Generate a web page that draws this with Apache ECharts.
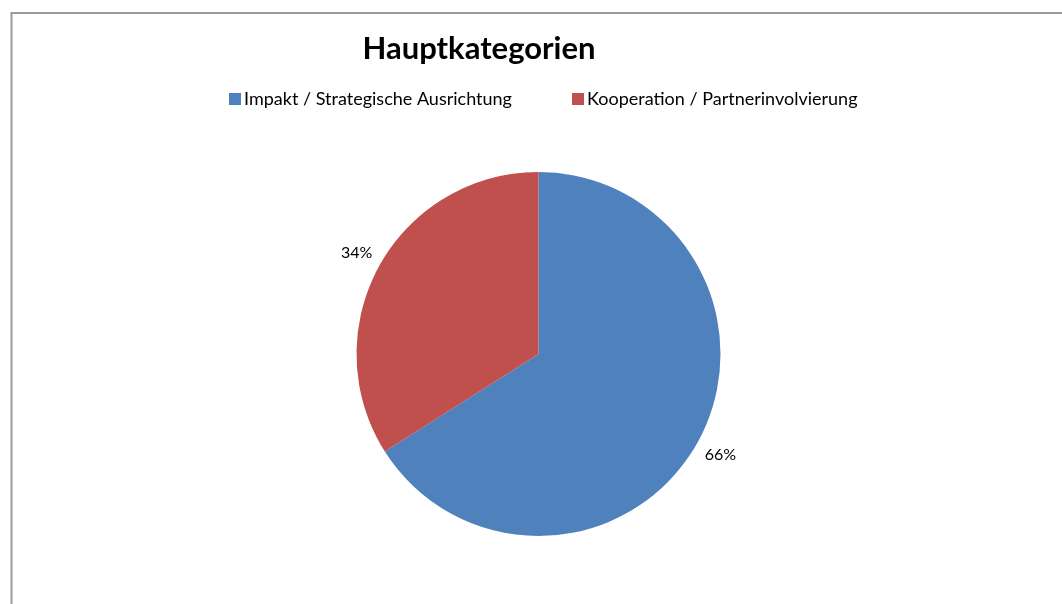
<!DOCTYPE html>
<html>
<head>
<meta charset="utf-8">
<script src="https://cdn.jsdelivr.net/npm/echarts@6/dist/echarts.min.js"></script>
<style>html,body{margin:0;padding:0;background:#fff}#c{width:1062px;height:604px}</style>
</head>
<body>
<div id="c"></div>
<script>
const titleText = 'Hauptkategorien';
const categories = ['Impakt / Strategische Ausrichtung', 'Kooperation / Partnerinvolvierung'];
const values = [66, 34];
const colors = ['#4F81BD', '#C0504D'];

const chart = echarts.init(document.getElementById('c'), null, {renderer: 'canvas'});
const font = 'Lato, "Open Sans", sans-serif';
chart.setOption({
  animation: false,
  backgroundColor: '#fff',
  graphic: [{
    type: 'rect', silent: true,
    shape: {x: 11.5, y: 13, width: 1200, height: 800},
    style: {fill: 'none', stroke: '#9a9a9a', lineWidth: 2}
  }],
  title: {
    text: titleText, left: 479, top: 33, textAlign: 'center', padding: 0,
    textStyle: {fontFamily: font, fontWeight: 'bold', fontSize: 31, color: '#000'}
  },
  legend: [{
    data: [categories[0]], left: 229, top: 90, padding: 0, itemWidth: 12, itemHeight: 12,
    icon: 'rect', textStyle: {fontFamily: font, fontSize: 18, color: '#000', padding: [0,0,0,-2]}
  }, {
    data: [categories[1]], left: 572, top: 90, padding: 0, itemWidth: 12, itemHeight: 12,
    icon: 'rect', textStyle: {fontFamily: font, fontSize: 18, color: '#000', padding: [0,0,0,-2]}
  }],
  series: [{
    type: 'pie',
    center: [538.5, 354],
    radius: 182,
    startAngle: 90,
    clockwise: true,
    avoidLabelOverlap: false,
    data: categories.map((n, i) => ({name: n, value: values[i], itemStyle: {color: colors[i]}})),
    itemStyle: {borderWidth: 0},
    label: {
      show: true, position: 'outside',
      formatter: p => Math.round(p.percent) + '%',
      fontFamily: font, fontSize: 16, color: '#000'
    },
    labelLine: {show: false, length: 27, length2: -22}
  }]
});
</script>
</body>
</html>
